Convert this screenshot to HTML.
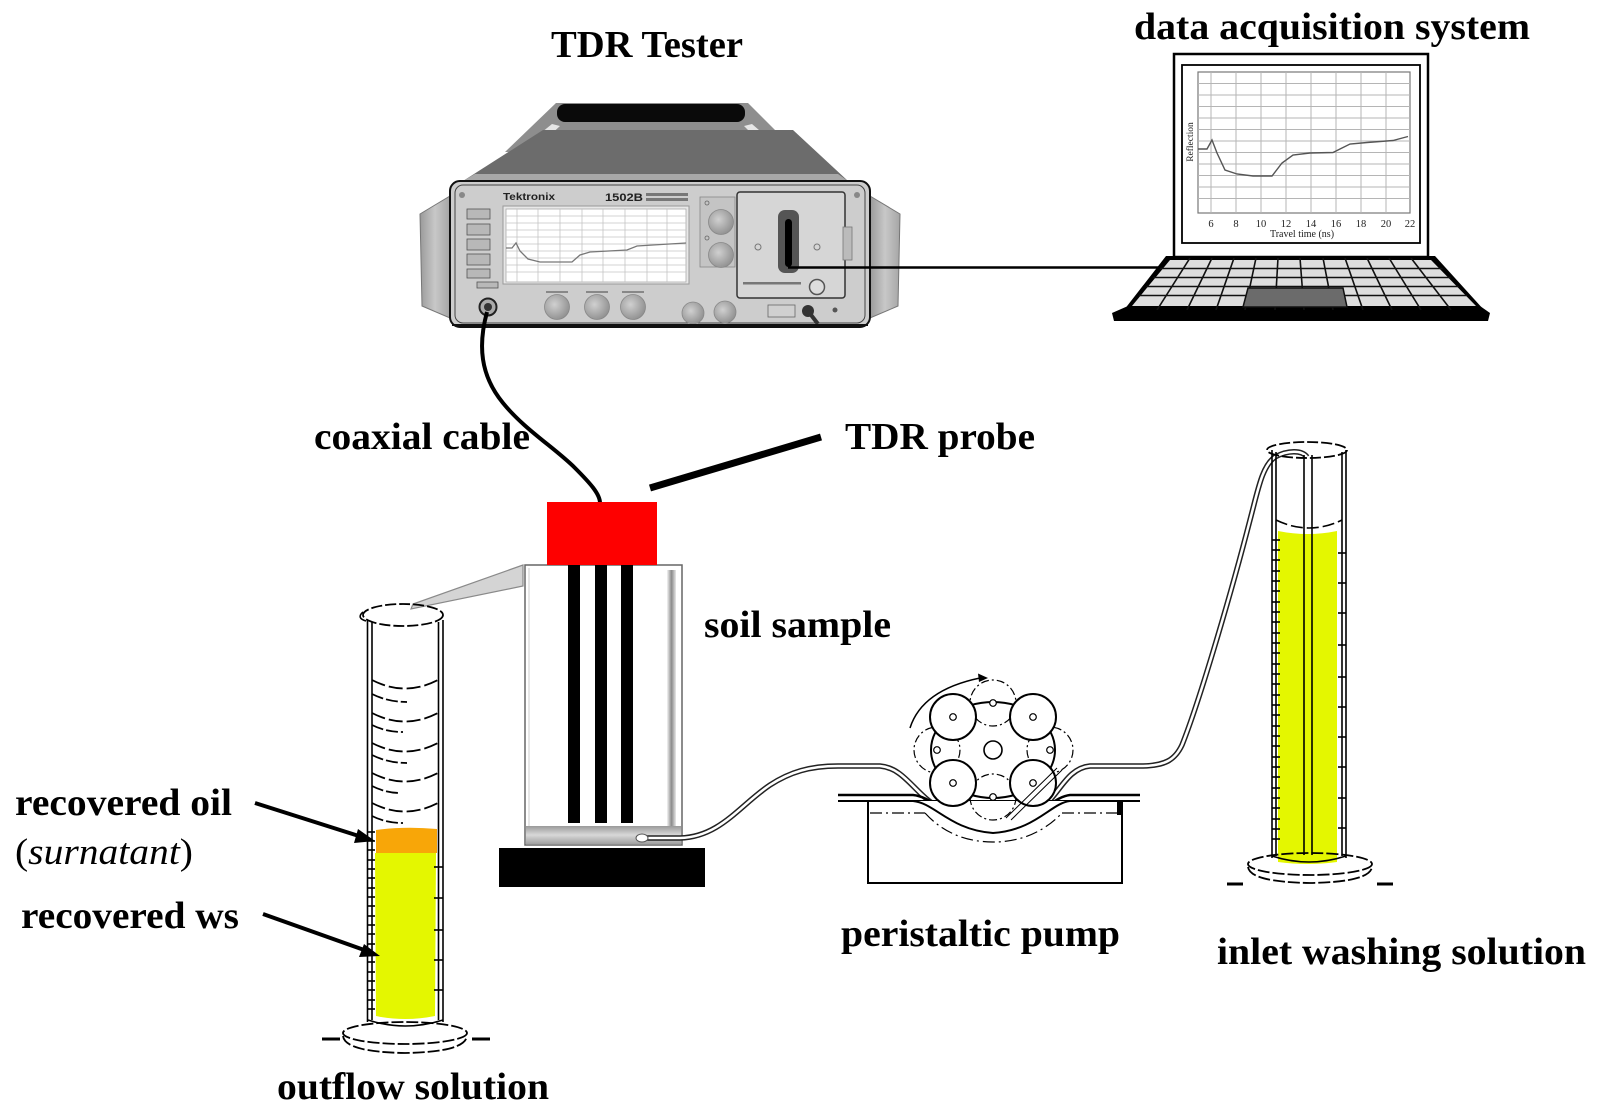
<!DOCTYPE html>
<html>
<head>
<meta charset="utf-8">
<style>
html,body{margin:0;padding:0;background:#fff;overflow:hidden;}
svg{display:block;}
.lb{font-family:"Liberation Serif",serif;font-weight:bold;font-size:38px;fill:#000;}
</style>
</head>
<body>
<svg width="1599" height="1119" viewBox="0 0 1599 1119" xmlns="http://www.w3.org/2000/svg">
<defs>
  <linearGradient id="ear" x1="0" y1="0" x2="1" y2="0">
    <stop offset="0" stop-color="#9a9a9a"/><stop offset="0.5" stop-color="#c8c8c8"/><stop offset="1" stop-color="#a5a5a5"/>
  </linearGradient>
  <radialGradient id="knob" cx="0.4" cy="0.4" r="0.7">
    <stop offset="0" stop-color="#d0d0d0"/><stop offset="1" stop-color="#8a8a8a"/>
  </radialGradient>
  <linearGradient id="shR" x1="0" y1="0" x2="1" y2="0">
    <stop offset="0" stop-color="#f4f4f4"/><stop offset="0.5" stop-color="#8a8a8a"/><stop offset="1" stop-color="#e8e8e8"/>
  </linearGradient>
  <linearGradient id="shB" x1="0" y1="0" x2="0" y2="1">
    <stop offset="0" stop-color="#9a9a9a"/><stop offset="0.5" stop-color="#d8d8d8"/><stop offset="1" stop-color="#a0a0a0"/>
  </linearGradient>
  <clipPath id="kb"><polygon points="1168,258 1433,258 1480,310 1128,310"/></clipPath>
</defs>

<!-- ===== LABELS ===== -->
<text class="lb" x="551" y="57" textLength="192" lengthAdjust="spacingAndGlyphs">TDR Tester</text>
<text class="lb" x="1134" y="39" textLength="396" lengthAdjust="spacingAndGlyphs">data acquisition system</text>
<text class="lb" x="314" y="449" textLength="216" lengthAdjust="spacingAndGlyphs">coaxial cable</text>
<text class="lb" x="845" y="449" textLength="190" lengthAdjust="spacingAndGlyphs">TDR probe</text>
<text class="lb" x="704" y="637" textLength="187" lengthAdjust="spacingAndGlyphs">soil sample</text>
<text class="lb" x="15" y="815" textLength="217" lengthAdjust="spacingAndGlyphs">recovered  oil</text>
<text x="15" y="864" font-family="'Liberation Serif',serif" font-size="37" textLength="178" lengthAdjust="spacingAndGlyphs">(<tspan font-style="italic">surnatant</tspan>)</text>
<text class="lb" x="21" y="928" textLength="218" lengthAdjust="spacingAndGlyphs">recovered  ws</text>
<text class="lb" x="841" y="946" textLength="279" lengthAdjust="spacingAndGlyphs">peristaltic pump</text>
<text class="lb" x="1217" y="964" textLength="369" lengthAdjust="spacingAndGlyphs">inlet washing solution</text>
<text class="lb" x="277" y="1099" textLength="272" lengthAdjust="spacingAndGlyphs">outflow solution</text>

<!-- ===== TDR TESTER ===== -->
<polygon points="505,152 556,103 748,103 797,152" fill="#8e8e8e"/>
<polygon points="520,150 552,124 560,126 532,152" fill="#e6e6e6"/>
<polygon points="782,150 752,124 744,126 770,152" fill="#e6e6e6"/>
<polygon points="463,181 543,130 793,130 848,181" fill="#6c6c6c"/>
<polygon points="463,181 475,174 838,174 848,181" fill="#a8a8a8"/>
<rect x="557" y="104" width="188" height="18" rx="8" fill="#0a0a0a"/>
<!-- ears -->
<polygon points="420,214 450,196 450,318 422,306" fill="url(#ear)" stroke="#777" stroke-width="1"/>
<polygon points="870,196 900,214 898,306 870,318" fill="url(#ear)" stroke="#777" stroke-width="1"/>
<!-- front -->
<rect x="450" y="181" width="420" height="146" rx="10" fill="#cdcdcd" stroke="#111" stroke-width="2"/>
<rect x="455" y="185" width="410" height="138" rx="8" fill="none" stroke="#444" stroke-width="1"/>
<circle cx="462" cy="195" r="3" fill="#888"/>
<circle cx="857" cy="195" r="3" fill="#888"/>
<circle cx="835" cy="310" r="2.5" fill="#555"/>
<text x="503" y="200" font-family="'Liberation Sans',sans-serif" font-weight="bold" font-size="10" textLength="52" lengthAdjust="spacingAndGlyphs" fill="#222">Tektronix</text>
<text x="605" y="201" font-family="'Liberation Sans',sans-serif" font-weight="bold" font-size="11" textLength="38" lengthAdjust="spacingAndGlyphs" fill="#222">1502B</text>
<rect x="646" y="193" width="42" height="3" fill="#777"/>
<rect x="646" y="198" width="42" height="3" fill="#777"/>
<!-- left buttons -->
<g fill="#b8b8b8" stroke="#555" stroke-width="0.8">
  <rect x="467" y="209" width="23" height="10"/>
  <rect x="467" y="224" width="23" height="11"/>
  <rect x="467" y="239" width="23" height="11"/>
  <rect x="467" y="254" width="23" height="11"/>
  <rect x="467" y="269" width="23" height="9"/>
  <rect x="477" y="282" width="21" height="6"/>
</g>
<!-- screen -->
<rect x="503" y="206" width="186" height="78" fill="#e8e8e8" stroke="#999" stroke-width="1"/>
<rect x="506" y="209" width="180" height="73" fill="#fff" stroke="#aaa" stroke-width="0.8"/>
<g stroke="#c4c4c4" stroke-width="0.8">
  <line x1="517" y1="209" x2="517" y2="282"/><line x1="538" y1="209" x2="538" y2="282"/>
  <line x1="560" y1="209" x2="560" y2="282"/><line x1="582" y1="209" x2="582" y2="282"/>
  <line x1="603" y1="209" x2="603" y2="282"/><line x1="625" y1="209" x2="625" y2="282"/>
  <line x1="647" y1="209" x2="647" y2="282"/><line x1="667" y1="209" x2="667" y2="282"/>
  <line x1="506" y1="216" x2="686" y2="216"/><line x1="506" y1="223" x2="686" y2="223"/>
  <line x1="506" y1="230" x2="686" y2="230"/><line x1="506" y1="237" x2="686" y2="237"/>
  <line x1="506" y1="244" x2="686" y2="244"/><line x1="506" y1="251" x2="686" y2="251"/>
  <line x1="506" y1="258" x2="686" y2="258"/><line x1="506" y1="265" x2="686" y2="265"/>
  <line x1="506" y1="272" x2="686" y2="272"/>
</g>
<polyline points="506,248 512,248 516,243 520,251 528,259 540,262 572,262 580,255 590,252 627,250 637,246 653,245 686,243" fill="none" stroke="#777" stroke-width="1.3"/>
<!-- right knob panel -->
<rect x="700" y="197" width="35" height="70" fill="#c4c4c4" stroke="#888" stroke-width="0.8"/>
<circle cx="721" cy="222" r="12.5" fill="url(#knob)" stroke="#888" stroke-width="0.8"/>
<circle cx="721" cy="255" r="12.5" fill="url(#knob)" stroke="#888" stroke-width="0.8"/>
<circle cx="707" cy="203" r="2" fill="none" stroke="#666" stroke-width="0.8"/>
<circle cx="707" cy="238" r="2" fill="none" stroke="#666" stroke-width="0.8"/>
<!-- option port -->
<rect x="737" y="192" width="108" height="106" rx="3" fill="#d6d6d6" stroke="#333" stroke-width="1.5"/>
<rect x="778" y="210" width="21" height="63" rx="7" fill="#555"/>
<rect x="785" y="219" width="7" height="48" rx="3.5" fill="#000"/>
<circle cx="758" cy="247" r="3" fill="none" stroke="#777" stroke-width="1"/>
<circle cx="817" cy="247" r="3" fill="none" stroke="#777" stroke-width="1"/>
<rect x="743" y="282" width="58" height="2.5" fill="#777"/>
<circle cx="817" cy="287" r="7.5" fill="#ddd" stroke="#555" stroke-width="1.5"/>
<rect x="843" y="227" width="9" height="33" fill="#bbb" stroke="#777" stroke-width="0.8"/>
<!-- bottom knobs -->
<g fill="url(#knob)" stroke="#888" stroke-width="0.8">
  <circle cx="557" cy="307" r="12.5"/><circle cx="597" cy="307" r="12.5"/><circle cx="633" cy="307" r="12.5"/>
  <circle cx="693" cy="313" r="11"/><circle cx="725" cy="312" r="11"/>
</g>
<rect x="546" y="291" width="22" height="2" fill="#888"/>
<rect x="586" y="291" width="22" height="2" fill="#888"/>
<rect x="622" y="291" width="22" height="2" fill="#888"/>
<rect x="768" y="305" width="27" height="12" fill="#d0d0d0" stroke="#666" stroke-width="0.8"/>
<circle cx="808" cy="311" r="6" fill="#333"/>
<line x1="808" y1="311" x2="818" y2="324" stroke="#333" stroke-width="4"/>
<circle cx="488" cy="307" r="8.5" fill="#aaa" stroke="#222" stroke-width="2"/>
<circle cx="488" cy="307" r="4" fill="#333"/>
<line x1="452" y1="325" x2="868" y2="325" stroke="#111" stroke-width="2"/>

<!-- coaxial cable -->
<path d="M487,312 C478,345 480,375 503,403 C525,430 555,448 575,468 C590,483 600,494 600,503" fill="none" stroke="#000" stroke-width="4"/>
<!-- cable to laptop -->
<line x1="788" y1="267.5" x2="1160" y2="267.5" stroke="#000" stroke-width="2.5"/>

<!-- ===== LAPTOP ===== -->
<rect x="1174" y="54" width="254" height="203" fill="#fff" stroke="#000" stroke-width="2.5"/>
<rect x="1182" y="65" width="238" height="178" fill="#fff" stroke="#000" stroke-width="1.8"/>
<rect x="1198" y="72" width="212" height="141" fill="#fff" stroke="#777" stroke-width="1.2"/>
<g stroke="#b5b5b5" stroke-width="1">
  <line x1="1211" y1="72" x2="1211" y2="213"/><line x1="1236" y1="72" x2="1236" y2="213"/>
  <line x1="1261" y1="72" x2="1261" y2="213"/><line x1="1286" y1="72" x2="1286" y2="213"/>
  <line x1="1311" y1="72" x2="1311" y2="213"/><line x1="1336" y1="72" x2="1336" y2="213"/>
  <line x1="1361" y1="72" x2="1361" y2="213"/><line x1="1386" y1="72" x2="1386" y2="213"/>
  <line x1="1198" y1="83.5" x2="1410" y2="83.5"/><line x1="1198" y1="95" x2="1410" y2="95"/>
  <line x1="1198" y1="106.5" x2="1410" y2="106.5"/><line x1="1198" y1="118" x2="1410" y2="118"/>
  <line x1="1198" y1="129.5" x2="1410" y2="129.5"/><line x1="1198" y1="141" x2="1410" y2="141"/>
  <line x1="1198" y1="152.5" x2="1410" y2="152.5"/><line x1="1198" y1="164" x2="1410" y2="164"/>
  <line x1="1198" y1="175.5" x2="1410" y2="175.5"/><line x1="1198" y1="187" x2="1410" y2="187"/>
  <line x1="1198" y1="198.5" x2="1410" y2="198.5"/>
</g>
<polyline points="1198,149 1207,149 1212,140 1217,153 1225,170 1237,174 1253,176 1272,176 1282,163 1293,155 1310,153 1333,152.5 1340,149 1350,144 1367,142.5 1393,140.5 1408,136.5" fill="none" stroke="#555" stroke-width="1.4"/>
<g font-family="'Liberation Serif',serif" font-size="10.5" fill="#222" text-anchor="middle">
  <text x="1211" y="227">6</text><text x="1236" y="227">8</text><text x="1261" y="227">10</text>
  <text x="1286" y="227">12</text><text x="1311" y="227">14</text><text x="1336" y="227">16</text>
  <text x="1361" y="227">18</text><text x="1386" y="227">20</text><text x="1410" y="227">22</text>
  <text x="1302" y="237" font-size="10">Travel time (ns)</text>
  <text x="1193" y="142" font-size="9.5" transform="rotate(-90 1193 142)">Reflection</text>
</g>
<!-- keyboard -->
<polygon points="1112,313 1128,306 1480,306 1490,313 1488,321 1114,321" fill="#000"/>
<polygon points="1166,256 1435,256 1484,310 1124,310" fill="#000"/>
<polygon points="1170,260 1431,260 1476,306 1132,306" fill="#dedede"/>
<g clip-path="url(#kb)" stroke="#111" stroke-width="1.6">
  <line x1="1100" y1="268.5" x2="1500" y2="268.5"/><line x1="1100" y1="277.5" x2="1500" y2="277.5"/>
  <line x1="1100" y1="286.5" x2="1500" y2="286.5"/><line x1="1100" y1="295.5" x2="1500" y2="295.5"/>
  <line x1="1190" y1="258" x2="1157" y2="310"/><line x1="1212" y1="258" x2="1187" y2="310"/>
  <line x1="1234" y1="258" x2="1216" y2="310"/><line x1="1256" y1="258" x2="1245" y2="310"/>
  <line x1="1278" y1="258" x2="1275" y2="310"/><line x1="1300" y1="258" x2="1304" y2="310"/>
  <line x1="1323" y1="258" x2="1333" y2="310"/><line x1="1345" y1="258" x2="1363" y2="310"/>
  <line x1="1367" y1="258" x2="1392" y2="310"/><line x1="1389" y1="258" x2="1421" y2="310"/>
  <line x1="1411" y1="258" x2="1451" y2="310"/>
</g>
<polygon points="1248,288 1343,288 1347,307 1243,307" fill="#6b6b6b" stroke="#111" stroke-width="1.5"/>

<!-- ===== TDR PROBE LINE ===== -->
<line x1="650" y1="488" x2="821" y2="437" stroke="#000" stroke-width="7"/>

<!-- ===== SOIL SAMPLE ===== -->
<polygon points="523,565 523,586 411,609 413,604" fill="#d4d4d4" stroke="#8a8a8a" stroke-width="1.2"/>
<rect x="525" y="565" width="157" height="280" fill="#fff" stroke="#666" stroke-width="1.5"/>
<line x1="529" y1="568" x2="529" y2="826" stroke="#ccc" stroke-width="1"/>
<rect x="667" y="570" width="9" height="258" fill="url(#shR)"/>
<rect x="526" y="826" width="155" height="18" fill="url(#shB)"/>
<rect x="568" y="565" width="12" height="258" fill="#000"/>
<rect x="595" y="565" width="12" height="258" fill="#000"/>
<rect x="621" y="565" width="12" height="258" fill="#000"/>
<rect x="547" y="502" width="110" height="63" fill="#fe0000"/>
<rect x="499" y="848" width="206" height="39" fill="#000"/>

<!-- ===== TUBE ===== -->
<path d="M642,838 L680,838 C720,837 740,805 770,785 C790,772 810,766 838,766 L880,766 C905,768 915,795 940,808 C960,818 975,820 993,820 C1015,820 1030,815 1045,805 C1060,792 1068,768 1090,766 L1140,766 C1165,766 1175,760 1182,745 C1200,700 1232,590 1250,520 C1258,490 1262,466 1275,457 C1288,450 1302,450 1307,457" fill="none" stroke="#222" stroke-width="5.5"/>
<path d="M642,838 L680,838 C720,837 740,805 770,785 C790,772 810,766 838,766 L880,766 C905,768 915,795 940,808 C960,818 975,820 993,820 C1015,820 1030,815 1045,805 C1060,792 1068,768 1090,766 L1140,766 C1165,766 1175,760 1182,745 C1200,700 1232,590 1250,520 C1258,490 1262,466 1275,457 C1288,450 1302,450 1307,457" fill="none" stroke="#fff" stroke-width="2.5"/>
<ellipse cx="642" cy="838" rx="6" ry="4" fill="#fff" stroke="#555" stroke-width="1"/>

<!-- ===== PERISTALTIC PUMP ===== -->
<rect x="868" y="801" width="254" height="82" fill="none" stroke="#000" stroke-width="2"/>
<rect x="1117" y="801" width="5" height="14" fill="#000"/>
<path d="M838,795 L913,795 C935,797 950,823 993,826 C1036,823 1051,797 1070,795 L1140,795" fill="none" stroke="#000" stroke-width="2.5"/>
<path d="M838,801 L913,801 C935,803 950,830 993,833 C1036,830 1051,803 1070,801 L1140,801" fill="#fff" stroke="#000" stroke-width="2"/>
<path d="M870,813 L925,813 M1062,813 L1120,813 M925,813 C945,835 970,842 993,842 C1016,842 1041,835 1062,813" fill="none" stroke="#000" stroke-width="1.2" stroke-dasharray="12 4 2 4"/>
<!-- rotor -->
<ellipse cx="993" cy="750" rx="62" ry="48" fill="#fff" stroke="#000" stroke-width="2"/>
<g fill="none" stroke="#000" stroke-width="1.2" stroke-dasharray="8 3 2 3">
  <circle cx="993" cy="703" r="23"/><circle cx="1050" cy="750" r="23"/>
  <circle cx="993" cy="797" r="23"/><circle cx="937" cy="750" r="23"/>
</g>
<g fill="#fff" stroke="#000" stroke-width="2">
  <circle cx="953" cy="717" r="23"/><circle cx="1033" cy="717" r="23"/>
  <circle cx="953" cy="783" r="23"/><circle cx="1033" cy="783" r="23"/>
</g>
<circle cx="993" cy="750" r="9" fill="#fff" stroke="#000" stroke-width="1.6"/>
<g fill="#fff" stroke="#000" stroke-width="1.2">
  <circle cx="953" cy="717" r="3.3"/><circle cx="1033" cy="717" r="3.3"/>
  <circle cx="953" cy="783" r="3.3"/><circle cx="1033" cy="783" r="3.3"/>
  <circle cx="993" cy="703" r="3.3"/><circle cx="1050" cy="750" r="3.3"/>
  <circle cx="993" cy="797" r="3.3"/><circle cx="937" cy="750" r="3.3"/>
</g>
<path d="M1057,768 L1006,818 M1062,770 L1011,820" stroke="#000" stroke-width="1"/>
<path d="M910,728 Q922,690 980,678" fill="none" stroke="#000" stroke-width="1.5"/>
<polygon points="988,678 978,673.5 979,682" fill="#000"/>

<!-- ===== OUTFLOW CYLINDER ===== -->
<path d="M376,830 Q405,826 437,829 L437,853 L376,853 Z" fill="#f8a608"/>
<path d="M375,853 L436,853 L435,1016 Q405,1022 376,1016 Z" fill="#e4f700"/>
<g stroke="#000" stroke-width="1.6" fill="none">
  <line x1="367.5" y1="620" x2="367.5" y2="1022"/><line x1="372" y1="622" x2="372" y2="1020"/>
  <line x1="438.5" y1="622" x2="438.5" y2="1020"/><line x1="443" y1="620" x2="443" y2="1022"/>
</g>
<ellipse cx="403" cy="615" rx="40" ry="11" fill="none" stroke="#000" stroke-width="1.8" stroke-dasharray="11 3"/>
<path d="M363,612 Q356,618 366,621" fill="none" stroke="#000" stroke-width="1.6"/>
<g stroke="#000" stroke-width="1.8" fill="none" stroke-dasharray="14 4">
  <path d="M372,680 Q405,697 438,680"/><path d="M372,713 Q405,730 438,713"/>
  <path d="M372,743 Q405,760 438,743"/><path d="M372,773 Q405,790 438,773"/>
  <path d="M372,803 Q405,820 438,803"/>
</g>
<g stroke="#000" stroke-width="1.8" fill="none" stroke-dasharray="12 3">
  <path d="M372,694 Q388,702 407,702"/><path d="M372,725 Q386,732 403,732"/>
  <path d="M372,755 Q388,763 407,763"/><path d="M372,786 Q386,793 400,793"/>
  <path d="M372,816 Q386,823 403,823"/>
</g>
<g stroke="#000" stroke-width="1.6">
  <line x1="367" y1="832" x2="375" y2="832"/><line x1="367" y1="841" x2="375" y2="841"/>
  <line x1="367" y1="850" x2="375" y2="850"/><line x1="367" y1="860" x2="375" y2="860"/>
  <line x1="367" y1="869" x2="375" y2="869"/><line x1="367" y1="878" x2="375" y2="878"/>
  <line x1="367" y1="888" x2="375" y2="888"/><line x1="367" y1="897" x2="375" y2="897"/>
  <line x1="367" y1="906" x2="375" y2="906"/><line x1="367" y1="916" x2="375" y2="916"/>
  <line x1="367" y1="925" x2="375" y2="925"/><line x1="367" y1="934" x2="375" y2="934"/>
  <line x1="367" y1="944" x2="375" y2="944"/><line x1="367" y1="953" x2="375" y2="953"/>
  <line x1="367" y1="962" x2="375" y2="962"/><line x1="367" y1="972" x2="375" y2="972"/>
  <line x1="367" y1="981" x2="375" y2="981"/><line x1="367" y1="990" x2="375" y2="990"/>
  <line x1="367" y1="1000" x2="375" y2="1000"/><line x1="367" y1="1009" x2="375" y2="1009"/>
  <line x1="434" y1="867" x2="443" y2="867"/><line x1="434" y1="898" x2="443" y2="898"/>
  <line x1="434" y1="930" x2="443" y2="930"/><line x1="434" y1="960" x2="443" y2="960"/>
  <line x1="434" y1="990" x2="443" y2="990"/>
</g>
<path d="M368,1020 Q405,1032 443,1020" fill="none" stroke="#000" stroke-width="1.6"/>
<ellipse cx="405" cy="1033" rx="62" ry="11" fill="none" stroke="#000" stroke-width="1.8" stroke-dasharray="12 3"/>
<path d="M343,1036 Q345,1052 405,1053 Q465,1052 467,1036" fill="none" stroke="#000" stroke-width="1.8" stroke-dasharray="12 3"/>
<line x1="322" y1="1039" x2="340" y2="1039" stroke="#000" stroke-width="3"/>
<line x1="472" y1="1039" x2="490" y2="1039" stroke="#000" stroke-width="3"/>
<!-- arrows -->
<line x1="255" y1="803" x2="362" y2="837" stroke="#000" stroke-width="4"/>
<polygon points="375,841 358,829 354,843" fill="#000"/>
<line x1="263" y1="914" x2="367" y2="951" stroke="#000" stroke-width="4"/>
<polygon points="380,956 364,944 359,957" fill="#000"/>

<!-- ===== INLET CYLINDER ===== -->
<path d="M1278,531 Q1308,537 1337,531 L1337,862 Q1308,866 1278,862 Z" fill="#e4f700"/>
<g stroke="#000" stroke-width="1.6" fill="none">
  <line x1="1272" y1="450" x2="1272" y2="858"/><line x1="1276" y1="452" x2="1276" y2="856"/>
  <line x1="1342" y1="452" x2="1342" y2="856"/><line x1="1346" y1="450" x2="1346" y2="858"/>
  <line x1="1304" y1="455" x2="1304" y2="855"/><line x1="1312" y1="455" x2="1312" y2="855"/>
</g>
<ellipse cx="1307" cy="450" rx="40" ry="8" fill="none" stroke="#000" stroke-width="1.8" stroke-dasharray="11 3"/>
<path d="M1276,520 Q1309,536 1342,520" fill="none" stroke="#000" stroke-width="1.6" stroke-dasharray="12 4"/>
<g stroke="#000" stroke-width="1.6">
  <line x1="1272" y1="540" x2="1280" y2="540"/><line x1="1272" y1="550" x2="1280" y2="550"/>
  <line x1="1272" y1="560" x2="1280" y2="560"/><line x1="1272" y1="571" x2="1280" y2="571"/>
  <line x1="1272" y1="581" x2="1280" y2="581"/><line x1="1272" y1="591" x2="1280" y2="591"/>
  <line x1="1272" y1="602" x2="1280" y2="602"/><line x1="1272" y1="612" x2="1280" y2="612"/>
  <line x1="1272" y1="622" x2="1280" y2="622"/><line x1="1272" y1="633" x2="1280" y2="633"/>
  <line x1="1272" y1="643" x2="1280" y2="643"/><line x1="1272" y1="653" x2="1280" y2="653"/>
  <line x1="1272" y1="664" x2="1280" y2="664"/><line x1="1272" y1="674" x2="1280" y2="674"/>
  <line x1="1272" y1="684" x2="1280" y2="684"/><line x1="1272" y1="695" x2="1280" y2="695"/>
  <line x1="1272" y1="705" x2="1280" y2="705"/><line x1="1272" y1="715" x2="1280" y2="715"/>
  <line x1="1272" y1="726" x2="1280" y2="726"/><line x1="1272" y1="736" x2="1280" y2="736"/>
  <line x1="1272" y1="746" x2="1280" y2="746"/><line x1="1272" y1="757" x2="1280" y2="757"/>
  <line x1="1272" y1="767" x2="1280" y2="767"/><line x1="1272" y1="777" x2="1280" y2="777"/>
  <line x1="1272" y1="788" x2="1280" y2="788"/><line x1="1272" y1="798" x2="1280" y2="798"/>
  <line x1="1272" y1="808" x2="1280" y2="808"/><line x1="1272" y1="819" x2="1280" y2="819"/>
  <line x1="1272" y1="829" x2="1280" y2="829"/><line x1="1272" y1="839" x2="1280" y2="839"/>
  <line x1="1338" y1="553" x2="1346" y2="553"/><line x1="1338" y1="583" x2="1346" y2="583"/>
  <line x1="1338" y1="613" x2="1346" y2="613"/><line x1="1338" y1="645" x2="1346" y2="645"/>
  <line x1="1338" y1="677" x2="1346" y2="677"/><line x1="1338" y1="707" x2="1346" y2="707"/>
  <line x1="1338" y1="737" x2="1346" y2="737"/><line x1="1338" y1="767" x2="1346" y2="767"/>
  <line x1="1338" y1="798" x2="1346" y2="798"/><line x1="1338" y1="828" x2="1346" y2="828"/>
</g>
<path d="M1272,856 Q1309,868 1346,856" fill="none" stroke="#000" stroke-width="1.6"/>
<ellipse cx="1310" cy="864" rx="62" ry="11" fill="none" stroke="#000" stroke-width="1.8" stroke-dasharray="12 3"/>
<path d="M1248,867 Q1250,882 1310,883 Q1370,882 1372,867" fill="none" stroke="#000" stroke-width="1.8" stroke-dasharray="12 3"/>
<line x1="1227" y1="884" x2="1243" y2="884" stroke="#000" stroke-width="3"/>
<line x1="1377" y1="884" x2="1393" y2="884" stroke="#000" stroke-width="3"/>
</svg>
</body>
</html>
